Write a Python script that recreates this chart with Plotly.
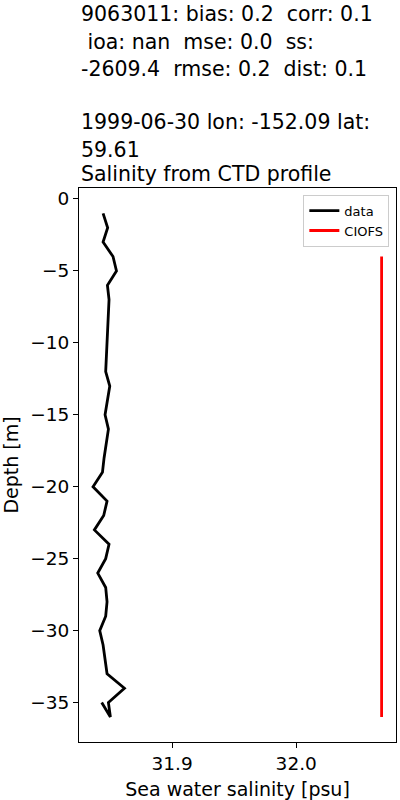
import plotly.graph_objects as go

# Observed CTD profile (data)
data_depth = [-1, -2, -3, -4, -5, -6, -7, -8, -9, -10, -11, -12, -13, -14, -15, -16, -17, -18,
              -19, -20, -21, -22, -23, -24, -25, -26, -27, -28, -29, -30, -31, -32, -33, -34,
              -35, -36, -35]
data_sal = [31.8444, 31.8481, 31.8444, 31.8524, 31.8552, 31.8479, 31.8492, 31.8487, 31.8481,
            31.8477, 31.8471, 31.8465, 31.8498, 31.8477, 31.8460, 31.8487, 31.8468, 31.8452,
            31.8439, 31.8363, 31.8476, 31.8449, 31.8374, 31.8492, 31.8465, 31.8401, 31.8465,
            31.8476, 31.8465, 31.8417, 31.8444, 31.8460, 31.8476, 31.8616, 31.8487, 31.8503,
            31.8433]

# Model (CIOFS)
model_depth = [-4, -36]
model_sal = [32.0688, 32.0688]

title_lines = [
    "9063011: bias: 0.2  corr: 0.1",
    " ioa: nan  mse: 0.0  ss:",
    "-2609.4  rmse: 0.2  dist: 0.1",
    "1999-06-30 lon: -152.09 lat:",
    "59.61",
    "Salinity from CTD profile",
]
title_centers_px = [14.2, 42.5, 69.0, 122.5, 150.0, 174.0]  # page pixels

x_label = "Sea water salinity [psu]"
y_label = "Depth [m]"

W, H = 400, 800
plot_left, plot_right, plot_top, plot_bottom = 79.3, 396, 188, 741.7
L, R, T, B = plot_left, W - plot_right, plot_top, H - plot_bottom

fig = go.Figure()
fig.add_trace(go.Scatter(x=data_sal, y=data_depth, mode="lines", name="data",
                         line=dict(color="black", width=2.8)))
fig.add_trace(go.Scatter(x=model_sal, y=model_depth, mode="lines", name="CIOFS",
                         line=dict(color="red", width=2.8)))

ph = plot_bottom - plot_top
annotations = []
for txt, yc in zip(title_lines, title_centers_px):
    annotations.append(dict(
        text=txt.replace(" ", "&nbsp;") if txt.startswith(" ") else txt,
        xref="paper", yref="paper", x=0, y=(plot_bottom - yc) / ph,
        xanchor="left", yanchor="middle", showarrow=False,
        font=dict(size=20.5, color="black", family="DejaVu Sans"),
    ))

fig.update_layout(
    width=W, height=H,
    margin=dict(l=L, r=R, t=T, b=B, autoexpand=False),
    paper_bgcolor="white", plot_bgcolor="white",
    font=dict(family="DejaVu Sans", color="black", size=18.5),
    showlegend=True,
    legend=dict(x=0.979, y=0.988, xanchor="right", yanchor="top",
                bgcolor="rgba(255,255,255,0.8)", bordercolor="#cccccc", borderwidth=1,
                font=dict(size=13), tracegroupgap=0, itemwidth=30),
    annotations=annotations,
    xaxis=dict(range=[31.825, 32.0804], tickvals=[31.9, 32.0], ticktext=["31.9", "32.0"],
               showgrid=False, zeroline=False, showline=True, linecolor="black", linewidth=1.2,
               mirror=True, ticks="outside", ticklen=5, tickcolor="black",
               title=dict(text=x_label, font=dict(size=19), standoff=9),
               tickfont=dict(size=18.5)),
    yaxis=dict(range=[-37.74, 0.76], dtick=5, tick0=0,
               showgrid=False, zeroline=False, showline=True, linecolor="black", linewidth=1.2,
               mirror=True, ticks="outside", ticklen=5, tickcolor="black",
               title=dict(text=y_label, font=dict(size=19), standoff=18),
               tickfont=dict(size=18.5)),
)

fig.write_html("out.html", config={"displayModeBar": False},
               post_script="document.body.style.margin='0';")
